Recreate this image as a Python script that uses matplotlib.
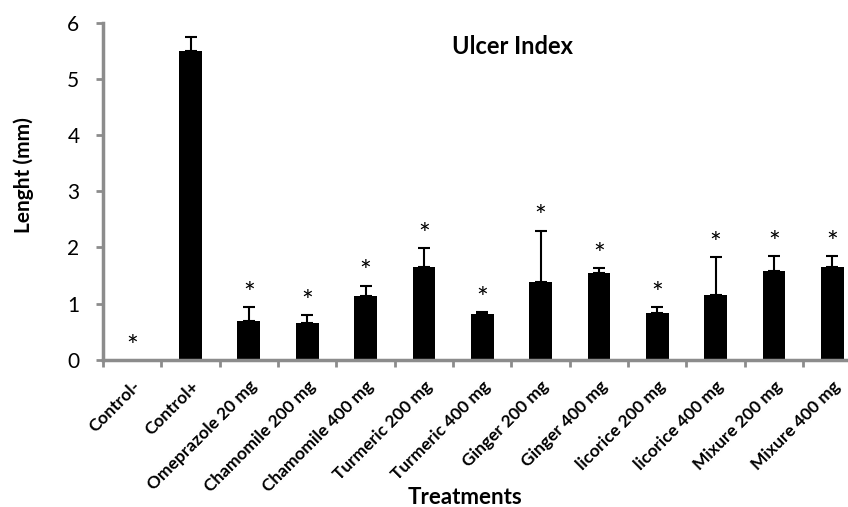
import matplotlib
matplotlib.use("Agg")
import matplotlib.pyplot as plt
import matplotlib.transforms as mtransforms
import numpy as np

plt.rcParams['font.family'] = ['Lato', 'DejaVu Sans']

categories = ["Control-", "Control+", "Omeprazole 20 mg", "Chamomile 200 mg",
              "Chamomile 400 mg", "Turmeric 200 mg", "Turmeric 400 mg",
              "Ginger 200 mg", "Ginger 400 mg", "licorice 200 mg",
              "licorice 400 mg", "Mixure 200 mg", "Mixure 400 mg"]
values = [0.0, 5.49, 0.70, 0.66, 1.13, 1.66, 0.82, 1.39, 1.545, 0.83, 1.15, 1.59, 1.65]
errors = [0.0, 0.25, 0.24, 0.14, 0.19, 0.33, 0.03, 0.91, 0.085, 0.11, 0.68, 0.25, 0.19]
significant = [True, False, True, True, True, True, True, True, True, True, True, True, True]
yticks = [0, 1, 2, 3, 4, 5, 6]

fig = plt.figure(figsize=(8.48, 5.07), dpi=100)
ax = fig.add_axes([0.1215, 0.290, 1.0 - 0.1215, 0.9556 - 0.290])

x = np.arange(len(categories))
vals = np.array(values)
errs = np.array(errors)
ax.bar(x, vals, width=0.39, color='black', edgecolor='#505050', linewidth=0, zorder=2)
has_err = errs > 0
ax.errorbar(x[has_err], vals[has_err], yerr=[np.zeros(has_err.sum()), errs[has_err]],
            fmt='none', ecolor='black', elinewidth=1.5, capsize=4.3, capthick=1.5, zorder=3)

for xi, v, e, s in zip(x, values, errors, significant):
    if s:
        ax.text(xi, v + e + 0.22, "*", ha='center', va='center', fontsize=20, color='black')

ax.set_xlim(-0.5, 12.27)
ax.set_ylim(0, 6)
ax.set_yticks(yticks)
ax.set_yticklabels([str(t) for t in yticks], fontsize=15)

ax.set_xticks(x - 0.5, minor=False)
ax.set_xticklabels([])
ax.set_xticks(x, minor=True)
labels = ax.set_xticklabels(categories, minor=True, rotation=45, ha='right', va='top',
                            rotation_mode='anchor', fontsize=12.5, fontweight='bold')
offset = mtransforms.ScaledTranslation(6 / 72, 0, fig.dpi_scale_trans)
for lab in labels:
    lab.set_transform(lab.get_transform() + offset)
ax.tick_params(axis='x', which='minor', length=0, pad=13)
ax.tick_params(axis='x', which='major', length=5, width=2, color='#8c8c8c', direction='out')
ax.tick_params(axis='y', length=5, width=2, color='#8c8c8c', direction='out', pad=12)

for side in ['top', 'right']:
    ax.spines[side].set_visible(False)
for side in ['left', 'bottom']:
    ax.spines[side].set_color('#8c8c8c')
    ax.spines[side].set_linewidth(2.5)

fig.text(24 / 848, 1 - 175 / 507, "Lenght (mm)", rotation=90, ha='center', va='center',
         fontsize=15, fontweight='bold')
fig.text(512 / 848, 1 - 47 / 507, "Ulcer Index", ha='center', va='center',
         fontsize=17, fontweight='bold')
fig.text(465 / 848, 1 - 497 / 507, "Treatments", ha='center', va='center',
         fontsize=16, fontweight='bold')

fig.savefig("out.png", dpi=100)
